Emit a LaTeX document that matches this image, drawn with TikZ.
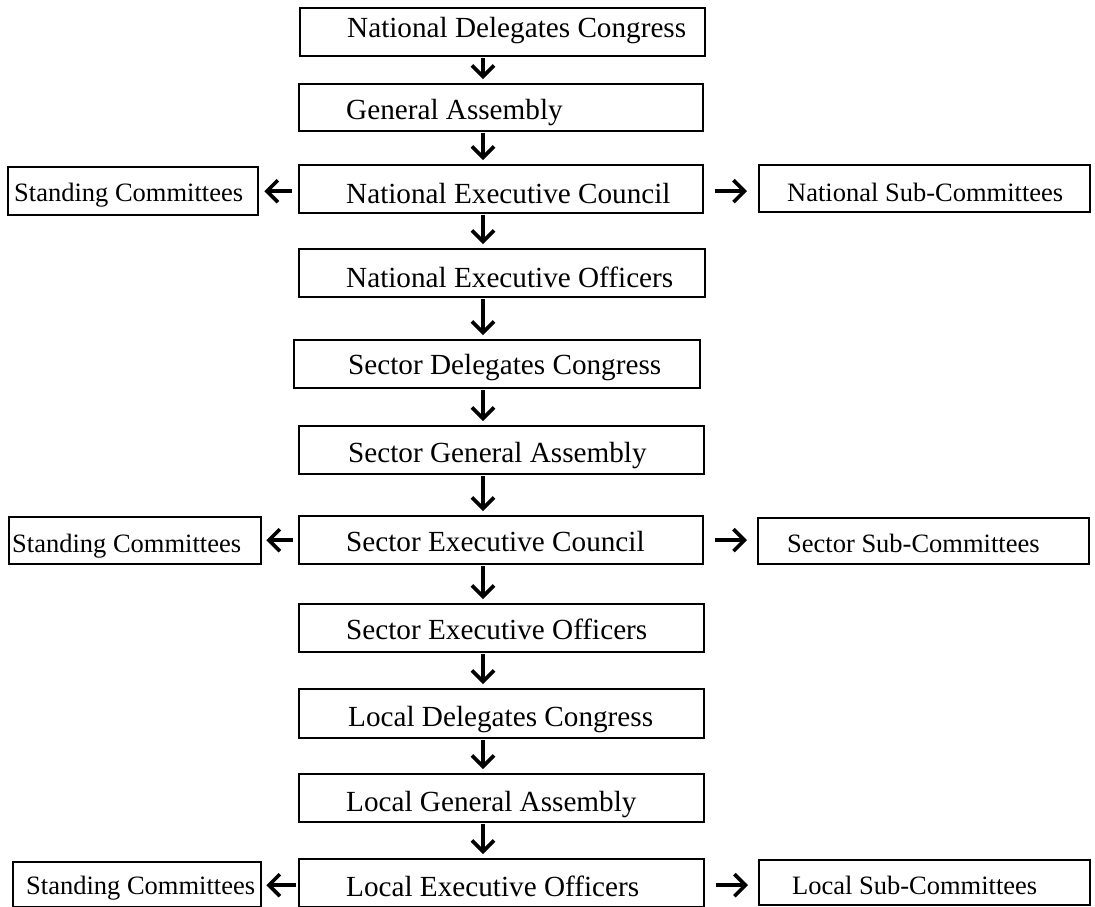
\documentclass[tikz,border=0pt]{standalone}
\usepackage{fontspec}
\setmainfont{Liberation Serif}
\usetikzlibrary{arrows.meta}
\newcommand{\mainsz}{\fontsize{29.2pt}{34pt}\selectfont}
\newcommand{\sidesz}{\fontsize{26.5pt}{31pt}\selectfont}
\newcommand{\padtxt}[3]{\makebox[#1pt][l]{\hspace*{#2pt}#3}}
\tikzset{
  bx/.style n args={3}{draw, line width=2.4pt, anchor=north west, inner sep=0pt,
    minimum width=#1pt, minimum height=#2pt, text height=#3pt, text depth=0pt},
  mainbox/.style n args={3}{bx={#1}{#2}{#3}, font=\mainsz},
  sidebox/.style n args={3}{bx={#1}{#2}{#3}, font=\sidesz},
  arr/.style={line width=3.6pt, -{Straight Barb[length=11pt,width=22pt]}}
}
\begin{document}
\begin{tikzpicture}[x=1pt,y=-1pt]
\useasboundingbox (0,0) rectangle (1095,906);
\coordinate (ax) at (483,0);
% main column
\node[mainbox={405}{48}{10}] (ndc) at (299,7)   {\padtxt{405}{47}{National Delegates Congress}};
\node[mainbox={404}{47}{24}] (ga)  at (298,83)  {\padtxt{404}{47}{General Assembly}};
\node[mainbox={404}{48}{28}] (nec) at (298,164) {\padtxt{404}{47}{National Executive Council}};
\node[mainbox={406}{48}{28}] (neo) at (298,248) {\padtxt{406}{47}{National Executive Officers}};
\node[mainbox={406}{48}{20}] (sdc) at (293,339) {\padtxt{406}{54}{Sector Delegates Congress}};
\node[mainbox={405}{48}{24}] (sga) at (298,425) {\padtxt{405}{49}{Sector General Assembly}};
\node[mainbox={404}{48}{22}] (sec) at (298,515) {\padtxt{404}{47}{Sector Executive Council}};
\node[mainbox={405}{48}{22}] (seo) at (298,603) {\padtxt{405}{47}{Sector Executive Officers}};
\node[mainbox={405}{49}{25}] (ldc) at (298,688) {\padtxt{405}{49}{Local Delegates Congress}};
\node[mainbox={405}{48}{27}] (lga) at (298,773) {\padtxt{405}{47}{Local General Assembly}};
\node[mainbox={405}{48}{26}] (leo) at (298,858) {\padtxt{405}{47}{Local Executive Officers}};
% side boxes
\node[sidebox={250}{48}{20}] (sc1) at (7,166)   {\padtxt{250}{6}{Standing Committees}};
\node[sidebox={331}{47}{25}] (nsc) at (758,164) {\padtxt{331}{28}{National Sub-Committees}};
\node[sidebox={252}{47}{23}] (sc2) at (8,516)   {\padtxt{252}{3}{Standing Committees}};
\node[sidebox={331}{46}{22}] (ssc) at (757,517) {\padtxt{331}{29}{Sector Sub-Committees}};
\node[sidebox={248}{45}{19}] (sc3) at (12,861)  {\padtxt{248}{13}{Standing Committees}};
\node[sidebox={331}{45}{23}] (lsc) at (758,859) {\padtxt{331}{33}{Local Sub-Committees}};
% vertical arrows
\foreach \a/\b in {ndc/ga, ga/nec, nec/neo, neo/sdc, sdc/sga, sga/sec, sec/seo, seo/ldc, ldc/lga, lga/leo}
  \draw[arr, shorten <=1pt, shorten >=4pt] (\a.south -| ax) -- (\b.north -| ax);
% horizontal arrows
\draw[arr, shorten <=6pt, shorten >=5pt] ([yshift=-2pt]nec.west) -- ([yshift=-2pt]nec.west -| sc1.east);
\draw[arr, shorten <=11pt, shorten >=11pt] ([yshift=-2pt]nec.east) -- ([yshift=-2pt]nec.east -| nsc.west);
\draw[arr, shorten <=5pt, shorten >=4pt] (sec.west) -- (sec.west -| sc2.east);
\draw[arr, shorten <=11pt, shorten >=10pt] (sec.east) -- (sec.east -| ssc.west);
\draw[arr, shorten <=2pt, shorten >=4pt] ([yshift=-2pt]leo.west) -- ([yshift=-2pt]leo.west -| sc3.east);
\draw[arr, shorten <=11pt, shorten >=10pt] ([yshift=-2pt]leo.east) -- ([yshift=-2pt]leo.east -| lsc.west);
\end{tikzpicture}
\end{document}
